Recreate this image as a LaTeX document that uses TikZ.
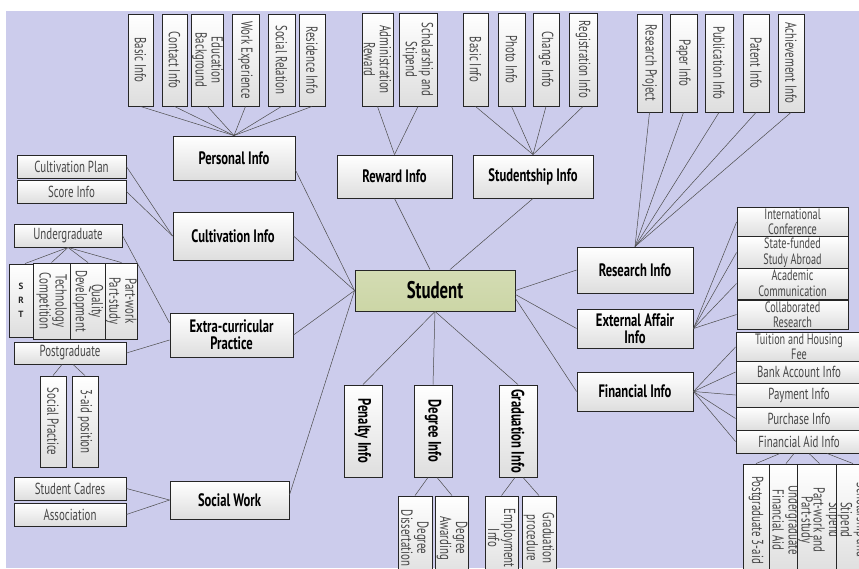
\documentclass[tikz,border=0pt]{standalone}
\usepackage{fontspec}
\usepackage{tikz}
\newfontfamily\agency[FakeStretch=0.68]{PT Sans}
\newfontfamily\agencyb[FakeStretch=0.7]{PT Sans}
\newfontfamily\srtfont{PT Sans}
\definecolor{lavbg}{RGB}{204,204,236}
\definecolor{stugreen}{RGB}{204,214,166}

\begin{document}
\begin{tikzpicture}[x=1pt, y=-1pt,
	box/.style={draw=black!85, line width=0.9pt, top color=white, bottom color=black!13, inner sep=1pt, align=center, font=\agencyb\fontsize{18}{17}\selectfont\bfseries},
	vbox/.style={box, rotate=-90},
	sub/.style={box, text=black!72, font=\agency\fontsize{16}{16}\selectfont},
	hsub/.style={sub, font=\agency\fontsize{15}{15.5}\selectfont},
	vsub/.style={sub, rotate=-90},
	wh/.style 2 args={minimum width=#1, minimum height=#2},
	every edge/.style={draw=black!70, line width=0.5pt}]
			\useasboundingbox (0,0) rectangle (859,568);
			\clip (0,0) rectangle (859,568);
			\fill[lavbg] (6,11) rectangle (859,568);
			
			% centre and main nodes
			\node[box, wh={160}{41}, top color=stugreen!85, bottom color=stugreen, font=\agencyb\fontsize{24}{24}\selectfont\bfseries] (student) at (435,290.5) {Student};
			\node[box, wh={122}{44}] (personal) at (234,158) {Personal Info};
			\node[box, wh={115}{43}] (reward) at (394.5,176.5) {Reward Info};
			\node[box, wh={120}{43}] (studentship) at (533,176.5) {Studentship Info};
			\node[box, wh={116}{46}] (research) at (635,270) {Research Info};
			\node[box, wh={116}{39}] (external) at (635,328.5) {External Affair\\Info};
			\node[box, wh={116}{39}] (financial) at (635,391.5) {Financial Info};
			\node[box, wh={120}{48}] (cultivation) at (233,236) {Cultivation Info};
			\node[box, wh={123}{44}] (extra) at (231.5,335) {Extra-curricular\\Practice};
			\node[box, wh={119}{38}] (socialwork) at (229.5,500) {Social Work};
			\node[vbox, wh={92}{38}] (penalty) at (363,431) {Penalty Info};
			\node[vbox, wh={92}{38}] (degree) at (433,431) {Degree Info};
			\node[vbox, wh={92}{38}] (graduation) at (518,431) {Graduation Info};
			
			% personal info
			\node[vsub, wh={92}{25}] (pbasic) at (140.5,60) {Basic Info};
			\node[vsub, wh={92}{25}] (pcontact) at (174.5,60) {Contact Info};
			\node[vsub, wh={92}{31}] (pedu) at (207.5,60) {Education\\Background};
			\node[vsub, wh={92}{27}] (pwork) at (245.5,60) {Work Experience};
			\node[vsub, wh={92}{27}] (psocial) at (281.5,60) {Social Relation};
			\node[vsub, wh={92}{26}] (presid) at (312,60) {Residence Info};
			
			% reward info
			\node[vsub, wh={93}{31}] (radmin) at (377.5,59.5) {Administration\\Reward};
			\node[vsub, wh={93}{38}] (rschol) at (418,59.5) {Scholarship and\\Stipend};
			
			% studentship info
			\node[vsub, wh={93}{25}] (sbasic) at (475.5,59.5) {Basic Info};
			\node[vsub, wh={93}{27}] (sphoto) at (511.5,59.5) {Photo Info};
			\node[vsub, wh={93}{26}] (schange) at (546,59.5) {Change Info};
			\node[vsub, wh={93}{28}] (sreg) at (583,59.5) {Registration Info};
			
			% research info
			\node[vsub, wh={98}{25}] (rproj) at (649.5,63) {Research Project};
			\node[vsub, wh={98}{27}] (rpaper) at (683.5,63) {Paper Info};
			\node[vsub, wh={98}{28}] (rpub) at (719,63) {Publication Info};
			\node[vsub, wh={98}{26}] (rpat) at (756,63) {Patent Info};
			\node[vsub, wh={98}{26}] (rach) at (791,63) {Achievement Info};
			
			% external affair info
			\node[hsub, wh={111}{30}] (eintl) at (792.5,222) {International\\Conference};
			\node[hsub, wh={111}{31}] (estate) at (792.5,252.5) {State-funded\\Study Abroad};
			\node[hsub, wh={111}{31}] (eacad) at (792.5,283.5) {Academic\\Communication};
			\node[hsub, wh={111}{29}] (ecoll) at (792.5,314.5) {Collaborated\\Research};
			
			% financial info
			\node[hsub, wh={126}{28}] (ftuit) at (799,347) {Tuition and Housing\\Fee};
			\node[sub, wh={126}{22}] (fbank) at (799,372) {Bank Account Info};
			\node[sub, wh={126}{24}] (fpay) at (799,395) {Payment Info};
			\node[sub, wh={126}{23}] (fpurch) at (799,418.5) {Purchase Info};
			\node[sub, wh={126}{23}] (faid) at (799,441.5) {Financial Aid Info};
			\node[vsub, wh={112}{26}] (apost) at (756,520) {Postgraduate 3-aid};
			\node[vsub, wh={112}{34}] (aunder) at (786,520) {Undergraduate\\Financial Aid};
			\node[vsub, wh={112}{33}, font=\agency\fontsize{16}{12}\selectfont] (apart) at (819.5,520) {Stipend\\Part-work and\\Part-study};
			\node[vsub, wh={112}{34}] (aschol) at (853,520) {Scholarship and\\Stipend};
			
			% degree and graduation info
			\node[vsub, wh={84}{34}] (ddiss) at (415,538) {Degree\\Dissertation};
			\node[vsub, wh={84}{30}] (dawar) at (452,538) {Degree\\Awarding};
			\node[vsub, wh={84}{33}] (gemp) at (501.5,538) {Employment\\Info};
			\node[vsub, wh={84}{34}] (gproc) at (539,538) {Graduation\\procedure};
			
			% cultivation info
			\node[sub, wh={109}{23}] (cplan) at (71.5,166.5) {Cultivation Plan};
			\node[sub, wh={109}{23}] (cscore) at (71.5,191.5) {Score Info};
			
			% extra-curricular practice
			\node[sub, wh={108}{23}] (under) at (68,235.5) {Undergraduate};
			\node[box, wh={24}{73}, text=black!85, font=\srtfont\fontsize{9}{14}\selectfont\bfseries] (srt) at (21,300.5) {S\\R\\T};
			\node[vsub, wh={76}{37}] (tech) at (51.5,301) {Technology\\Competition};
			\node[vsub, wh={76}{36}] (quality) at (88,301) {Quality\\Development};
			\node[vsub, wh={76}{31}] (partwork) at (121.5,301) {Part-work\\Part-study};
			\node[sub, wh={112}{22}] (post) at (70,353) {Postgraduate};
			\node[vsub, wh={91}{26}] (socprac) at (53,421.5) {Social Practice};
			\node[vsub, wh={91}{26}] (aidpos) at (85,421.5) {3-aid position};
			
			% social work
			\node[sub, wh={112}{23}] (cadres) at (70,488.5) {Student Cadres};
			\node[sub, wh={112}{23}] (assoc) at (70,514.5) {Association};
			
			% student to main nodes (rotated nodes: west = top, east = bottom)
			\path ([yshift=-12pt]personal.east) edge (student.west);
			\path (cultivation.east) edge (student.west);
			\path (extra.east) edge (student.west);
			\path ([yshift=5pt]socialwork.east) edge (student.west);
			\path ([xshift=-5pt]student.north) edge (reward.south);
			\path ([xshift=15pt]student.north) edge (studentship.south);
			\path (student.east) edge (research.west);
			\path ([yshift=-4pt]student.east) edge (external.west);
			\path ([yshift=-8pt]student.east) edge (financial.west);
			\path (student.south) edge (penalty.west);
			\path (student.south) edge (degree.west);
			\path (student.south) edge (graduation.west);
			
			\path (pbasic.east) edge (personal.north);
			\path (pcontact.east) edge (personal.north);
			\path (pedu.east) edge (personal.north);
			\path (pwork.east) edge (personal.north);
			\path (psocial.east) edge (personal.north);
			\path (presid.east) edge (personal.north);
			
			\path (radmin.east) edge (reward.north);
			\path (rschol.east) edge (reward.north);
			
			\path (sbasic.east) edge (studentship.north);
			\path (sphoto.east) edge (studentship.north);
			\path (schange.east) edge (studentship.north);
			\path (sreg.east) edge (studentship.north);
			
			\path (rproj.east) edge (research.north);
			\path (rpaper.east) edge (research.north);
			\path (rpub.east) edge (research.north);
			\path (rpat.east) edge (research.north);
			\path (rach.east) edge (research.north);
			
			\path (external.east) edge (eintl.west);
			\path (external.east) edge (estate.west);
			\path (external.east) edge (eacad.west);
			\path (external.east) edge (ecoll.west);
			
			\path (financial.east) edge (ftuit.west);
			\path (financial.east) edge (fbank.west);
			\path (financial.east) edge (fpay.west);
			\path (financial.east) edge (fpurch.west);
			\path (financial.east) edge (faid.west);
			\path ([xshift=-19pt]faid.south) edge (apost.west);
			\path ([xshift=-5pt]faid.south) edge (aunder.west);
			\path ([xshift=10pt]faid.south) edge (apart.west);
			\path ([xshift=28pt]faid.south) edge (aschol.west);
			
			\path ([xshift=-5pt]degree.east) edge (ddiss.west);
			\path ([xshift=4pt]degree.east) edge (dawar.west);
			\path ([xshift=-3pt]graduation.east) edge (gemp.west);
			\path ([xshift=5pt]graduation.east) edge (gproc.west);
			
			\path (cplan.east) edge (cultivation.west);
			\path (cscore.east) edge (cultivation.west);
			
			\path (under.east) edge ([yshift=12pt]extra.west);
			\path (post.east) edge ([yshift=-5pt]extra.west);
			\path (under.south) edge ([xshift=4pt]srt.north);
			\path (under.south) edge (tech.west);
			\path (under.south) edge (quality.west);
			\path (under.south) edge (partwork.west);
			\path ([xshift=-8pt]post.south) edge (socprac.west);
			\path ([xshift=3pt]post.south) edge (aidpos.west);
			
			\path (cadres.east) edge (socialwork.west);
			\path (assoc.east) edge (socialwork.west);
			\end{tikzpicture}
\end{document}
